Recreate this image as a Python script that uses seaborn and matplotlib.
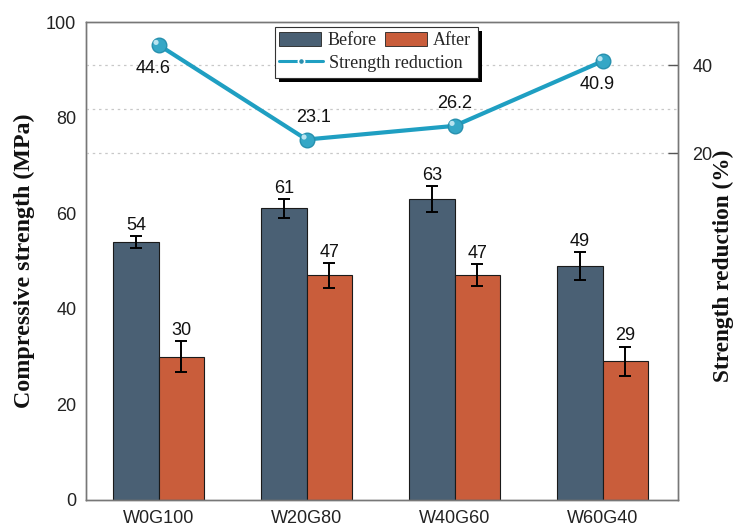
import numpy as np
import pandas as pd
import matplotlib
matplotlib.use("Agg")
import matplotlib.pyplot as plt
import matplotlib.transforms as mtransforms
import seaborn as sns
from matplotlib.patches import Rectangle, Patch
from matplotlib.lines import Line2D

# Mix designs and measured compressive strength (MPa)
mixes = ["W0G100", "W20G80", "W40G60", "W60G40"]
before = [54, 61, 63, 49]
after = [30, 47, 47, 29]
before_err = [1.3, 1.9, 2.7, 2.9]
after_err = [3.2, 2.6, 2.3, 3.1]
# Relative strength loss (%)
reduction = [44.6, 23.1, 26.2, 40.9]
reduction_offsets = [(-4, -17), (5, 16), (0, 16), (-4, -17)]

c_before = "#4a6074"
c_after = "#c95d3b"
c_line = "#1f9fc2"

sns.set_theme(style="white")
plt.rcParams["font.family"] = ["Liberation Sans", "DejaVu Sans"]
serif = ["Liberation Serif", "DejaVu Serif"]

fig = plt.figure(figsize=(7.4, 5.28), dpi=100)
ax = fig.add_axes([86 / 740, 28 / 528, 592 / 740, 478 / 528])

df = pd.DataFrame({
    "Mix": mixes * 2,
    "Strength": before + after,
    "Stage": ["Before"] * len(mixes) + ["After"] * len(mixes),
})
sns.barplot(data=df, x="Mix", y="Strength", hue="Stage",
            palette={"Before": c_before, "After": c_after},
            width=0.61, errorbar=None, edgecolor="#1a1a1a", linewidth=0.8,
            saturation=1, legend=False, ax=ax, zorder=2)

for cont, vals, errs in zip(ax.containers, [before, after], [before_err, after_err]):
    for bar, v, e in zip(cont, vals, errs):
        xc = bar.get_x() + bar.get_width() / 2
        ax.errorbar(xc, v, yerr=e, color="black", capsize=4.5,
                    elinewidth=1.4, capthick=1.4, zorder=3)
        ax.annotate(f"{v}", (xc, v + e), xytext=(0, 1.5),
                    textcoords="offset points", ha="center", va="bottom",
                    fontsize=13, color="#111111")

ax.set_ylim(0, 100)
ax.set_yticks(np.arange(0, 101, 20))
ax.set_xlabel("")
ax.set_ylabel("Compressive strength (MPa)", fontfamily=serif,
              fontweight="bold", fontsize=17.3, color="#111111")
ax.yaxis.set_label_coords(-0.086, 0.5)
ax.tick_params(axis="y", length=0, pad=7, labelsize=13, labelcolor="#222222")
ax.tick_params(axis="x", length=0, pad=7, labelsize=13, labelcolor="#222222")

# Secondary axis: strength reduction
ax2 = ax.twinx()
for g in (20, 30, 40):
    ax2.axhline(g, color="#c8c8c8", lw=0.9, ls=(0, (2, 3)), zorder=0)
sns.lineplot(x=np.arange(len(mixes)), y=reduction, ax=ax2, color=c_line,
             lw=3, marker="o", markersize=10.5, markerfacecolor="#35a7c6",
             markeredgecolor="#2790ae", markeredgewidth=1, zorder=4)
# small specular highlight on each marker
hl = mtransforms.offset_copy(ax2.transData, fig=fig, x=-1.8, y=1.8, units="points")
ax2.scatter(np.arange(len(mixes)), reduction, s=14, color="#b9e4f0",
            edgecolors="none", transform=hl, zorder=5)
for i, (r, off) in enumerate(zip(reduction, reduction_offsets)):
    ax2.annotate(f"{r}", (i, r), xytext=off, textcoords="offset points",
                 ha="center", va="center", fontsize=13, color="#111111")
ax2.set_ylim(-58.8, 49.8)
ax2.set_yticks([20, 40])
ax2.set_yticks([30], minor=True)
ax2.tick_params(axis="y", which="major", direction="in", length=7, width=1,
                color="#555555", pad=10.5, labelsize=13, labelcolor="#222222")
ax2.tick_params(axis="y", which="minor", direction="in", length=0)
ax2.set_ylabel("Strength reduction (%)", fontfamily=serif, fontweight="bold",
               fontsize=16.8, color="#111111")
ax2.yaxis.set_label_coords(1.0585, 0.49)
ax.set_xlim(-0.49, 3.51)
ax2.set_xlim(-0.49, 3.51)

for a in (ax, ax2):
    for s in a.spines.values():
        s.set_color("#777777")
        s.set_linewidth(1.0)

# Legend box with drop shadow
bx, by, bw, bh = 275, 27, 203, 51
fig.add_artist(Rectangle(((bx + 4) / 740, 1 - (by + bh + 4) / 528), bw / 740, bh / 528,
                         transform=fig.transFigure, facecolor="black",
                         edgecolor="none", zorder=3))
fig.add_artist(Rectangle((bx / 740, 1 - (by + bh) / 528), bw / 740, bh / 528,
                         transform=fig.transFigure, facecolor="white",
                         edgecolor="#333333", lw=0.8, zorder=4))
bar_handles = [Patch(facecolor=c_before, edgecolor="#222222", lw=0.6, label="Before"),
               Patch(facecolor=c_after, edgecolor="#222222", lw=0.6, label="After")]
line_handle = [Line2D([], [], color=c_line, lw=2.2, marker="o", markersize=4.5,
                      markerfacecolor="#2a8fae", markeredgecolor="white",
                      markeredgewidth=1.2, label="Strength reduction")]
leg_kw = dict(loc="upper left", frameon=False, borderaxespad=0, borderpad=0.15,
              handletextpad=0.35, prop={"family": serif, "size": 13})
leg1 = fig.legend(handles=bar_handles, ncol=2, columnspacing=0.5,
                  handlelength=2.3, handleheight=0.85,
                  bbox_to_anchor=(bx / 740 + 0.002, 1 - (by + 2) / 528), **leg_kw)
leg1.set_zorder(5)
leg2 = fig.legend(handles=line_handle, handlelength=2.4,
                  bbox_to_anchor=(bx / 740 + 0.002, 1 - (by + 25) / 528), **leg_kw)
leg2.set_zorder(5)

fig.savefig("out.png", dpi=100)
